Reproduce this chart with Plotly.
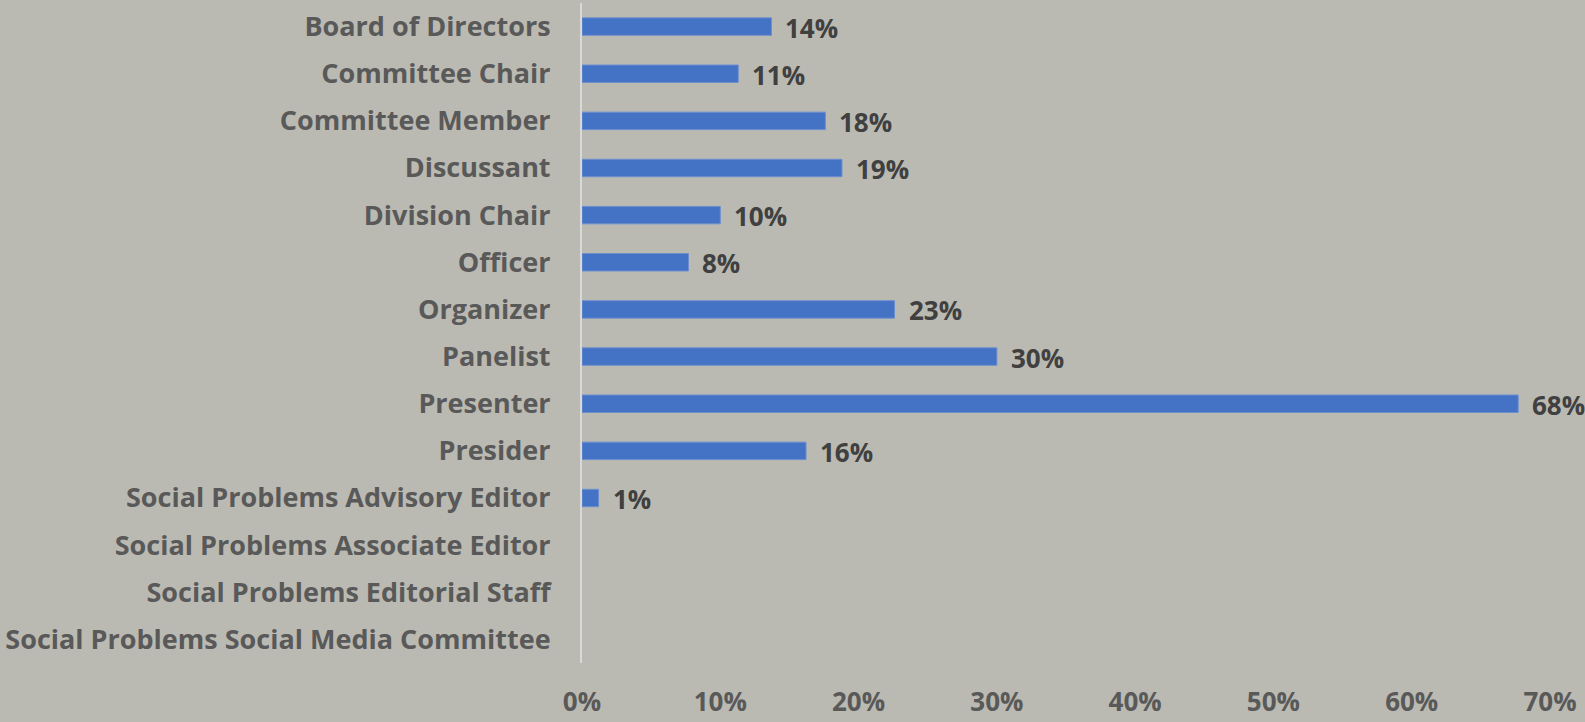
import plotly.graph_objects as go

categories = ["Board of Directors", "Committee Chair", "Committee Member", "Discussant",
              "Division Chair", "Officer", "Organizer", "Panelist", "Presenter", "Presider",
              "Social Problems Advisory Editor", "Social Problems Associate Editor",
              "Social Problems Editorial Staff", "Social Problems Social Media Committee"]
values = [0.137, 0.113, 0.176, 0.188, 0.100, 0.077, 0.226, 0.300, 0.677, 0.162, 0.012, None, None, None]
tick_vals = [0, 0.1, 0.2, 0.3, 0.4, 0.5, 0.6, 0.7]
tick_text = ["0%", "10%", "20%", "30%", "40%", "50%", "60%", "70%"]

FONT = "Open Sans"
BG = "#BBBAB2"
SIZE = 27

fig = go.Figure()
fig.add_trace(go.Bar(
    y=categories, x=values, orientation="h",
    marker=dict(color="#4472C4", line=dict(color="#6D8FCF", width=1)),
    width=0.37,
))
for c, v in zip(categories, values):
    if v is None:
        continue
    fig.add_annotation(x=v, y=c, text=f"{round(v*100):d}%", showarrow=False,
                       xanchor="left", xshift=12, yshift=-1,
                       font=dict(family=FONT, size=26, color="#404040", weight=700))

fig.update_layout(
    width=1585, height=722,
    paper_bgcolor=BG, plot_bgcolor=BG,
    margin=dict(l=582, r=35, t=3, b=51),
    showlegend=False,
    font=dict(family=FONT, size=SIZE, color="#595959", weight=700),
    bargap=0.63,
)
fig.update_xaxes(range=[0, 0.70], tickvals=tick_vals, ticktext=tick_text,
                 showgrid=False, zeroline=False, showline=False,
                 ticks="", ticklabelstandoff=21,
                 tickfont=dict(family=FONT, size=26, color="#595959", weight=700))
fig.update_yaxes(autorange="reversed", showgrid=False, zeroline=False,
                 showline=True, linecolor="#D9D9D9", linewidth=2,
                 ticks="", ticklabelstandoff=24,
                 tickfont=dict(family=FONT, size=SIZE, color="#595959", weight=700))

fig.write_html("out.html", config={"displayModeBar": False},
               post_script="document.body.style.margin='0';document.body.style.overflow='hidden';document.body.style.background='%s';" % BG)
